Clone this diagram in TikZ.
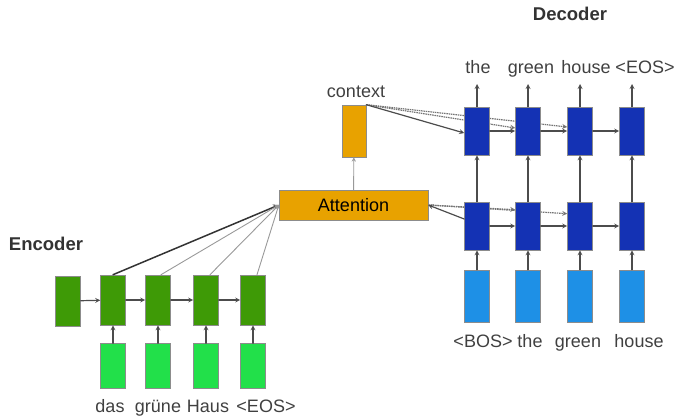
\documentclass[tikz,border=0pt]{standalone}
\usepackage{fontspec}
\setmainfont{Liberation Sans}
\usetikzlibrary{calc,backgrounds}
\definecolor{encg}{HTML}{3E9A06}
\definecolor{ing}{HTML}{22E04A}
\definecolor{att}{HTML}{E8A200}
\definecolor{decb}{HTML}{1432B4}
\definecolor{inb}{HTML}{1E90E6}

\tikzset{
  cell/.style={draw=black!45,line width=0.6pt,minimum width=25pt,minimum height=50pt,inner sep=0pt},
  enc/.style={cell,fill=encg},
  encin/.style={cell,fill=ing,minimum height=45pt},
  dec/.style={cell,fill=decb,minimum height=48pt},
  decin/.style={cell,fill=inb,minimum height=52pt},
  word/.style={text=black!75,inner sep=0pt,anchor=base},
  title/.style={text=black!80,inner sep=0pt,anchor=base,font=\fontsize{18.5}{22}\selectfont\bfseries},
  link/.style={->,line width=1.2pt,draw=black!70},
  soft/.style={->,line width=0.9pt,draw=black!40},
  faint/.style={->,line width=1.2pt,draw=black!55,dash pattern=on 1.5pt off 0.8pt},
}

\begin{document}
\begin{tikzpicture}[>=stealth,x=1pt,y=-1pt,font=\fontsize{18}{22}\selectfont,line cap=round]
	\useasboundingbox (0,0) rectangle (677,415);
	% encoder
	\node[title] (enclab) at (46,250) {Encoder};
	\node[enc] (e0) at (68,301) {};
	\node[enc] (e1) at (113,300) {};
	\node[enc] (e2) at (158,300) {};
	\node[enc] (e3) at (206,300) {};
	\node[enc] (e4) at (253,300) {};
	\node[encin] (x1) at (113,366) {};
	\node[encin] (x2) at (158,366) {};
	\node[encin] (x3) at (206,366) {};
	\node[encin] (x4) at (253,366) {};
	\node[word] (w1) at (110,412) {das};
	\node[word] (w2) at (158,412) {grüne};
	\node[word] (w3) at (208,412) {Haus};
	\node[word] (w4) at (266,412) {<EOS>};
	% attention and context
	\node[draw=black!45,fill=att,minimum width=149pt,minimum height=30pt] (attn) at (353.5,205) {Attention};
	\node[cell,fill=att,minimum width=24pt,minimum height=52pt] (ctx) at (354,131) {};
	\node[word] (ctxlab) at (356,97) {context};
	% decoder
	\node[title] (declab) at (570,20) {Decoder};
	\node[dec] (u1) at (477,131) {};
	\node[dec] (u2) at (528,131) {};
	\node[dec] (u3) at (580,131) {};
	\node[dec] (u4) at (632,131) {};
	\node[dec] (d1) at (477,226) {};
	\node[dec] (d2) at (528,226) {};
	\node[dec] (d3) at (580,226) {};
	\node[dec] (d4) at (632,226) {};
	\node[decin] (y1) at (477,296) {};
	\node[decin] (y2) at (528,296) {};
	\node[decin] (y3) at (580,296) {};
	\node[decin] (y4) at (632,296) {};
	\node[word] (o1) at (478,73) {the};
	\node[word] (o2) at (531,73) {green};
	\node[word] (o3) at (586,73) {house};
	\node[word] (o4) at (645,73) {<EOS>};
	\node[word] (b1) at (483,347) {<BOS>};
	\node[word] (b2) at (530,347) {the};
	\node[word] (b3) at (578,347) {green};
	\node[word] (b4) at (639,347) {house};
	\coordinate (t1) at (477,84);
	\coordinate (t2) at (528,84);
	\coordinate (t3) at (580,84);
	\coordinate (t4) at (632,84);
	\begin{scope}[on background layer]
		% context / attention links behind the cells
		\draw[faint] (ctx.north east) -- ($(u2.west)+(0,-3)$);
		\draw[faint] (ctx.north east) -- ($(u3.west)+(0,-4)$);
		\draw[faint] (attn.east) -- ($(d2.north west)+(0,8)$);
		\draw[faint] (attn.east) -- ($(d3.north west)+(0,12)$);
	\end{scope}
	\draw[link] (ctx.north east) -- ($(u1.west)+(0,2)$);
	\draw[link,<-] (attn.east) -- ($(d1.west)+(0,-7)$);
	% encoder arrows
	\draw[link] (e0) -- (e1);
	\draw[link] (e1) -- (e2);
	\draw[link] (e2) -- (e3);
	\draw[link] (e3) -- (e4);
	\draw[link] (x1) -- (e1);
	\draw[link] (x2) -- (e2);
	\draw[link] (x3) -- (e3);
	\draw[link] (x4) -- (e4);
	\draw[link,line width=1.5pt,draw=black!80,<-] (attn.west) -- (e1.north);
	\draw[soft,<-] (attn.west) -- ($(e2.north)+(3,0)$);
	\draw[soft,<-] (attn.west) -- ($(e3.north)+(4,0)$);
	\draw[soft,<-] (attn.west) -- ($(e4.north)+(4,0)$);
	\draw[soft] (attn) -- (ctx);
	% decoder arrows
	\draw[link] (u1) -- (u2);
	\draw[link] (u2) -- (u3);
	\draw[link] (u3) -- (u4);
	\draw[link] (d1) -- (d2);
	\draw[link] (d2) -- (d3);
	\draw[link] (d3) -- (d4);
	\draw[link] (d1) -- (u1);
	\draw[link] (d2) -- (u2);
	\draw[link] (d3) -- (u3);
	\draw[link] (d4) -- (u4);
	\draw[link] (y1) -- (d1);
	\draw[link] (y2) -- (d2);
	\draw[link] (y3) -- (d3);
	\draw[link] (y4) -- (d4);
	\draw[link] (u1) -- (t1);
	\draw[link] (u2) -- (t2);
	\draw[link] (u3) -- (t3);
	\draw[link] (u4) -- (t4);
\end{tikzpicture}
\end{document}
